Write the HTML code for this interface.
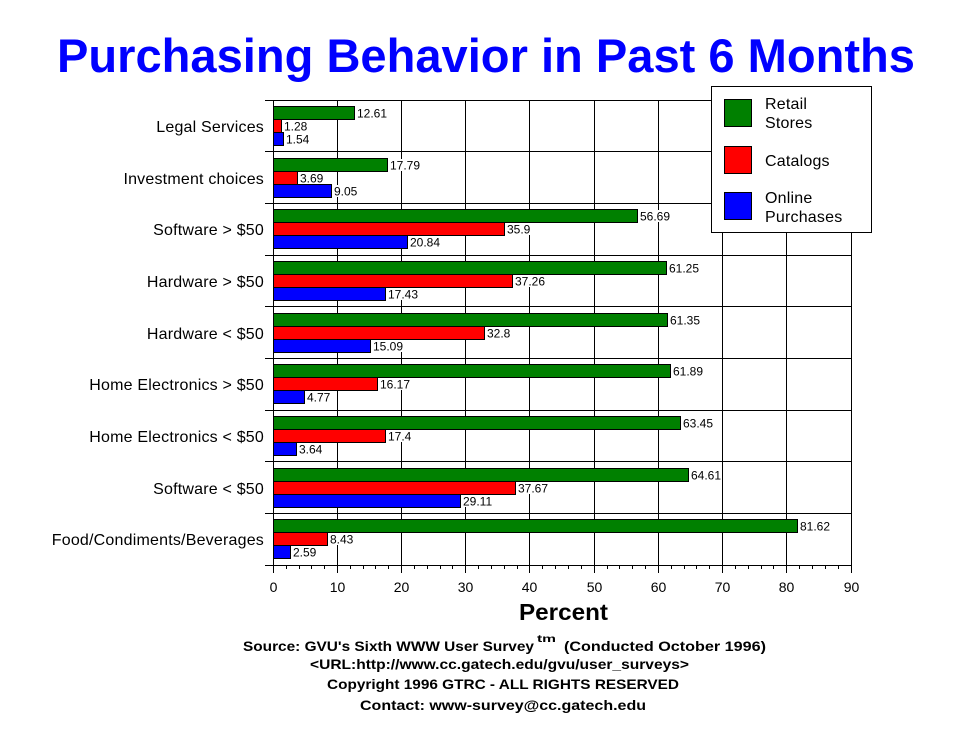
<!DOCTYPE html>
<html><head><meta charset="utf-8"><style>
html,body{margin:0;padding:0;background:#fff;}
svg{display:block;}
text{font-family:"Liberation Sans",Arial,sans-serif;}
</style></head><body>
<svg width="970" height="736" viewBox="0 0 970 736" xmlns="http://www.w3.org/2000/svg">
<rect x="0" y="0" width="970" height="736" fill="#fff"/>
<text x="57" y="72" font-size="47" font-weight="bold" fill="#0000ff" textLength="858" lengthAdjust="spacingAndGlyphs">Purchasing Behavior in Past 6 Months</text>

<g stroke="#000" stroke-width="1" shape-rendering="crispEdges" fill="none">
<line x1="273.5" y1="100" x2="273.5" y2="573"/>
<line x1="337.5" y1="100" x2="337.5" y2="573"/>
<line x1="401.5" y1="100" x2="401.5" y2="573"/>
<line x1="465.5" y1="100" x2="465.5" y2="573"/>
<line x1="529.5" y1="100" x2="529.5" y2="573"/>
<line x1="594.5" y1="100" x2="594.5" y2="573"/>
<line x1="658.5" y1="100" x2="658.5" y2="573"/>
<line x1="722.5" y1="100" x2="722.5" y2="573"/>
<line x1="786.5" y1="100" x2="786.5" y2="573"/>
<line x1="851.5" y1="100" x2="851.5" y2="573"/>
<line x1="265" y1="100.5" x2="852" y2="100.5"/>
<line x1="265" y1="151.5" x2="852" y2="151.5"/>
<line x1="265" y1="203.5" x2="852" y2="203.5"/>
<line x1="265" y1="255.5" x2="852" y2="255.5"/>
<line x1="265" y1="306.5" x2="852" y2="306.5"/>
<line x1="265" y1="358.5" x2="852" y2="358.5"/>
<line x1="265" y1="410.5" x2="852" y2="410.5"/>
<line x1="265" y1="461.5" x2="852" y2="461.5"/>
<line x1="265" y1="513.5" x2="852" y2="513.5"/>
<line x1="265" y1="565.5" x2="852" y2="565.5"/>
<path d="M286.5 565v4M299.5 565v4M311.5 565v4M324.5 565v4M350.5 565v4M363.5 565v4M375.5 565v4M388.5 565v4M414.5 565v4M427.5 565v4M440.5 565v4M452.5 565v4M478.5 565v4M491.5 565v4M504.5 565v4M517.5 565v4M542.5 565v4M555.5 565v4M568.5 565v4M581.5 565v4M607.5 565v4M619.5 565v4M632.5 565v4M645.5 565v4M671.5 565v4M684.5 565v4M696.5 565v4M709.5 565v4M735.5 565v4M748.5 565v4M761.5 565v4M773.5 565v4M799.5 565v4M812.5 565v4M825.5 565v4M838.5 565v4"/>
</g>

<g stroke="#000" stroke-width="1" shape-rendering="crispEdges">
<rect x="273.5" y="106.5" width="81" height="13" fill="#008000"/>
<rect x="273.5" y="119.5" width="8" height="13" fill="#ff0000"/>
<rect x="273.5" y="132.5" width="10" height="13" fill="#0000ff"/>

<rect x="273.5" y="158.5" width="114" height="13" fill="#008000"/>
<rect x="273.5" y="171.5" width="24" height="13" fill="#ff0000"/>
<rect x="273.5" y="184.5" width="58" height="13" fill="#0000ff"/>

<rect x="273.5" y="209.5" width="364" height="13" fill="#008000"/>
<rect x="273.5" y="222.5" width="231" height="13" fill="#ff0000"/>
<rect x="273.5" y="235.5" width="134" height="13" fill="#0000ff"/>

<rect x="273.5" y="261.5" width="393" height="13" fill="#008000"/>
<rect x="273.5" y="274.5" width="239" height="13" fill="#ff0000"/>
<rect x="273.5" y="287.5" width="112" height="13" fill="#0000ff"/>

<rect x="273.5" y="313.5" width="394" height="13" fill="#008000"/>
<rect x="273.5" y="326.5" width="211" height="13" fill="#ff0000"/>
<rect x="273.5" y="339.5" width="97" height="13" fill="#0000ff"/>

<rect x="273.5" y="364.5" width="397" height="13" fill="#008000"/>
<rect x="273.5" y="377.5" width="104" height="13" fill="#ff0000"/>
<rect x="273.5" y="390.5" width="31" height="13" fill="#0000ff"/>

<rect x="273.5" y="416.5" width="407" height="13" fill="#008000"/>
<rect x="273.5" y="429.5" width="112" height="13" fill="#ff0000"/>
<rect x="273.5" y="442.5" width="23" height="13" fill="#0000ff"/>

<rect x="273.5" y="468.5" width="415" height="13" fill="#008000"/>
<rect x="273.5" y="481.5" width="242" height="13" fill="#ff0000"/>
<rect x="273.5" y="494.5" width="187" height="13" fill="#0000ff"/>

<rect x="273.5" y="519.5" width="524" height="13" fill="#008000"/>
<rect x="273.5" y="532.5" width="54" height="13" fill="#ff0000"/>
<rect x="273.5" y="545.5" width="17" height="13" fill="#0000ff"/>
</g>

<g fill="#fff" shape-rendering="crispEdges">
<rect x="355" y="107" width="33" height="12"/><rect x="282" y="120" width="26" height="12"/><rect x="284" y="133" width="26" height="12"/>
<rect x="388" y="159" width="33" height="12"/><rect x="298" y="172" width="26" height="12"/><rect x="332" y="185" width="26" height="12"/>
<rect x="638" y="210" width="33" height="12"/><rect x="505" y="223" width="26" height="12"/><rect x="408" y="236" width="33" height="12"/>
<rect x="667" y="262" width="33" height="12"/><rect x="513" y="275" width="33" height="12"/><rect x="386" y="288" width="33" height="12"/>
<rect x="668" y="314" width="33" height="12"/><rect x="485" y="327" width="26" height="12"/><rect x="371" y="340" width="33" height="12"/>
<rect x="671" y="365" width="33" height="12"/><rect x="378" y="378" width="33" height="12"/><rect x="305" y="391" width="26" height="12"/>
<rect x="681" y="417" width="33" height="12"/><rect x="386" y="430" width="26" height="12"/><rect x="297" y="443" width="26" height="12"/>
<rect x="689" y="469" width="33" height="12"/><rect x="516" y="482" width="33" height="12"/><rect x="461" y="495" width="33" height="12"/>
<rect x="798" y="520" width="33" height="12"/><rect x="328" y="533" width="26" height="12"/><rect x="291" y="546" width="26" height="12"/>
</g>
<g font-size="12" fill="#000">
<text x="357" y="117.5">12.61</text><text x="284" y="130.5">1.28</text><text x="286" y="143.5">1.54</text>
<text x="390" y="169.5">17.79</text><text x="300" y="182.5">3.69</text><text x="334" y="195.5">9.05</text>
<text x="640" y="220.5">56.69</text><text x="507" y="233.5">35.9</text><text x="410" y="246.5">20.84</text>
<text x="669" y="272.5">61.25</text><text x="515" y="285.5">37.26</text><text x="388" y="298.5">17.43</text>
<text x="670" y="324.5">61.35</text><text x="487" y="337.5">32.8</text><text x="373" y="350.5">15.09</text>
<text x="673" y="375.5">61.89</text><text x="380" y="388.5">16.17</text><text x="307" y="401.5">4.77</text>
<text x="683" y="427.5">63.45</text><text x="388" y="440.5">17.4</text><text x="299" y="453.5">3.64</text>
<text x="691" y="479.5">64.61</text><text x="518" y="492.5">37.67</text><text x="463" y="505.5">29.11</text>
<text x="800" y="530.5">81.62</text><text x="330" y="543.5">8.43</text><text x="293" y="556.5">2.59</text>
</g>

<g font-size="16" fill="#000" text-anchor="end" letter-spacing="0.2">
<text x="264" y="132">Legal Services</text>
<text x="264" y="184">Investment choices</text>
<text x="264" y="235">Software &gt; $50</text>
<text x="264" y="287">Hardware &gt; $50</text>
<text x="264" y="339">Hardware &lt; $50</text>
<text x="264" y="390">Home Electronics &gt; $50</text>
<text x="264" y="442">Home Electronics &lt; $50</text>
<text x="264" y="494">Software &lt; $50</text>
<text x="264" y="545">Food/Condiments/Beverages</text>
</g>

<g font-size="14" fill="#000" text-anchor="middle">
<text x="273.5" y="592">0</text>
<text x="337.5" y="592">10</text>
<text x="401.5" y="592">20</text>
<text x="465.5" y="592">30</text>
<text x="529.5" y="592">40</text>
<text x="594.5" y="592">50</text>
<text x="658.5" y="592">60</text>
<text x="722.5" y="592">70</text>
<text x="786.5" y="592">80</text>
<text x="851.5" y="592">90</text>
</g>
<text x="519" y="620" font-size="23" font-weight="bold" fill="#000" textLength="89" lengthAdjust="spacingAndGlyphs">Percent</text>

<rect x="711.5" y="86.5" width="160" height="146" fill="#fff" stroke="#000" stroke-width="1" shape-rendering="crispEdges"/>
<g stroke="#000" stroke-width="1" shape-rendering="crispEdges">
<rect x="724.5" y="99.5" width="27" height="27" fill="#008000"/>
<rect x="724.5" y="146.5" width="27" height="27" fill="#ff0000"/>
<rect x="724.5" y="192.5" width="27" height="27" fill="#0000ff"/>
</g>
<g font-size="16" fill="#000" letter-spacing="0.2">
<text x="765" y="109">Retail</text>
<text x="765" y="128">Stores</text>
<text x="765" y="166">Catalogs</text>
<text x="765" y="203">Online</text>
<text x="765" y="222">Purchases</text>
</g>

<g font-size="14" font-weight="bold" fill="#000">
<text x="243" y="651" textLength="291" lengthAdjust="spacingAndGlyphs">Source: GVU's Sixth WWW User Survey</text>
<text x="537" y="642" font-size="10" textLength="19" lengthAdjust="spacingAndGlyphs">tm</text>
<text x="564" y="651" textLength="202" lengthAdjust="spacingAndGlyphs">(Conducted October 1996)</text>
<text x="310" y="669" textLength="379" lengthAdjust="spacingAndGlyphs">&lt;URL:http://www.cc.gatech.edu/gvu/user_surveys&gt;</text>
<text x="327" y="689" textLength="352" lengthAdjust="spacingAndGlyphs">Copyright 1996 GTRC -  ALL RIGHTS RESERVED</text>
<text x="360" y="710" textLength="286" lengthAdjust="spacingAndGlyphs">Contact: www-survey@cc.gatech.edu</text>
</g>
</svg>
</body></html>
